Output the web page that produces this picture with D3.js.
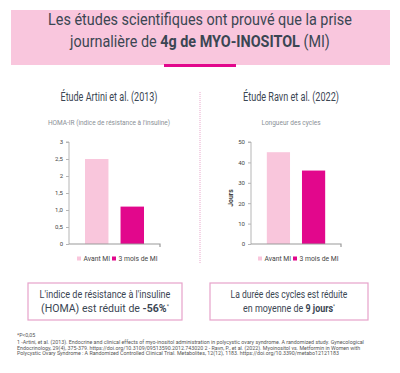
<!DOCTYPE html>
<html>
<head>
<meta charset="utf-8">
<script src="https://cdn.jsdelivr.net/npm/d3@7"></script>
<style>
  body { margin: 0; background: #fff; }
  text { font-family: Roboto, "Noto Sans", sans-serif; }
</style>
</head>
<body>
<div id="chart"></div>
<script>
// Data
var categories = ["Avant MI", "3 mois de MI"];
var homaValues = [2.5, 1.1];
var cycleValues = [45, 36];
var homaTicks = [0, 0.5, 1.0, 1.5, 2, 2.5, 3];
var homaTickLabels = ["0", "0,5", "1,0", "1,5", "2", "2,5", "3"];
var cycleTicks = [0, 10, 20, 30, 40, 50];

var pink = "#f9c6dc", magenta = "#e2078c", dark = "#3b4653";
var color = d3.scaleOrdinal().domain(categories).range([pink, magenta]);

var svg = d3.select("#chart").append("svg")
  .attr("width", 400)
  .attr("height", 373);

// squeeze text horizontally to a given width (the original uses a condensed face)
function fit(sel, w) {
  var n = sel.node().getComputedTextLength();
  var x = +sel.attr("x");
  var s = Math.min(1, w / n);
  sel.attr("transform", "translate(" + x + ",0) scale(" + s + ",1) translate(" + (-x) + ",0)");
  return sel;
}

// Header band
svg.append("rect").attr("x", 11).attr("y", 10).attr("width", 379).attr("height", 55).attr("fill", "#f9c6dd");
svg.append("rect").attr("x", 164).attr("y", 64).attr("width", 72).attr("height", 3).attr("fill", magenta);

fit(svg.append("text").attr("x", 200).attr("y", 25).attr("text-anchor", "middle")
  .attr("font-size", 16).attr("fill", dark)
  .text("Les études scientifiques ont prouvé que la prise"), 304);
var t2 = svg.append("text").attr("x", 200).attr("y", 47).attr("text-anchor", "middle")
  .attr("font-size", 16).attr("fill", dark);
t2.append("tspan").text("journalière de ");
t2.append("tspan").attr("font-weight", 700).text("4g de MYO-INOSITOL");
t2.append("tspan").text(" (MI)");
fit(t2, 260);

// Divider
svg.append("line").attr("x1", 200).attr("x2", 200).attr("y1", 92).attr("y2", 263)
  .attr("stroke", "#e9a6cc").attr("stroke-width", 1).attr("stroke-dasharray", "1,1");

function barChart(opt) {
  var x = d3.scaleBand()
    .domain(categories)
    .range([opt.x0, opt.x1])
    .paddingInner(0.34)
    .paddingOuter(0.45);
  var y = d3.scaleLinear()
    .domain([0, opt.max])
    .range([244, 142]);

  fit(svg.append("text").attr("x", opt.cx).attr("y", 101).attr("text-anchor", "middle")
    .attr("font-size", 12).attr("fill", dark).text(opt.study), opt.studyW);
  svg.append("text").attr("x", opt.cx).attr("y", 125).attr("text-anchor", "middle")
    .attr("font-size", 6.5).attr("fill", "#8a8f96").text(opt.title);

  // Y axis
  var yAxis = d3.axisLeft(y).tickValues(opt.ticks).tickSize(3).tickPadding(3)
    .tickFormat(function(d, i) { return opt.labels ? opt.labels[i] : d; });
  var ga = svg.append("g").attr("transform", "translate(" + opt.x0 + ",0)").call(yAxis);
  ga.select(".domain").attr("stroke", "#b5b5b5").attr("d", "M-3,142H0V244");
  ga.selectAll(".tick line").attr("stroke", "#b5b5b5");
  ga.selectAll("text").attr("font-size", 6).attr("fill", "#444").attr("font-family", "Roboto");

  // Bars
  svg.selectAll(null)
    .data(opt.values)
    .enter()
    .append("rect")
      .attr("x", function(d, i) { return x(categories[i]); })
      .attr("y", function(d) { return y(d); })
      .attr("width", x.bandwidth())
      .attr("height", function(d) { return y(0) - y(d); })
      .attr("fill", function(d, i) { return color(categories[i]); });

  // X axis line
  svg.append("path")
    .attr("d", "M" + opt.x0 + "," + y(0) + "H" + opt.x1 + "v3")
    .attr("fill", "none").attr("stroke", "#9a9a9a").attr("stroke-width", 1.2);

  // Legend
  var lg = svg.append("g").attr("transform", "translate(" + opt.lx + ",259)");
  var offs = [0, 35];
  categories.forEach(function(c, i) {
    lg.append("rect").attr("x", offs[i]).attr("y", -2.5).attr("width", 4).attr("height", 4).attr("fill", color(c));
    lg.append("text").attr("x", offs[i] + 6.5).attr("y", 2).attr("font-size", 6.8).attr("fill", "#444").text(c);
  });

  if (opt.yLabel) {
    svg.append("text")
      .attr("transform", "translate(" + (opt.x0 - 18) + ",198) rotate(-90)")
      .attr("text-anchor", "middle").attr("font-size", 6.8).attr("font-weight", 700)
      .attr("fill", "#444").text(opt.yLabel);
  }
}

barChart({x0: 69, x1: 160, cx: 109, max: 3, values: homaValues, ticks: homaTicks,
  labels: homaTickLabels, study: "Étude Artini et al. (2013)", studyW: 97,
  title: "HOMA-IR (indice de résistance à l'insuline)", lx: 77});
barChart({x0: 251, x1: 341, cx: 291, max: 50, values: cycleValues, ticks: cycleTicks,
  study: "Étude Ravn et al. (2022)", studyW: 96, title: "Longueur des cycles",
  lx: 258, yLabel: "Jours"});

// Result boxes
function box(x, w, l1, l2parts, w1, w2) {
  svg.append("rect").attr("x", x).attr("y", 283).attr("width", w).attr("height", 37)
    .attr("fill", "none").attr("stroke", "#e7a2ca").attr("stroke-width", 1.2);
  var cx = x + w / 2;
  fit(svg.append("text").attr("x", cx).attr("y", 298.5).attr("text-anchor", "middle")
    .attr("font-size", 11).attr("fill", dark).text(l1), w1);
  var t = svg.append("text").attr("x", cx).attr("y", 312).attr("text-anchor", "middle")
    .attr("font-size", 11).attr("fill", dark);
  l2parts.forEach(function(p) {
    var s = t.append("tspan").text(p[0]);
    if (p[1] === "b") s.attr("font-weight", 700);
    if (p[1] === "sup") s.attr("font-size", 5.5).attr("baseline-shift", "4");
  });
  fit(t, w2);
}
box(28, 154, "L'indice de résistance à l'insuline",
  [["(HOMA) est réduit de "], ["-56%", "b"], ["*", "sup"]], 131, 128);
box(210, 158, "La durée des cycles est réduite",
  [["en moyenne de "], ["9 jours", "b"], ["*", "sup"]], 117, 92);

// Footnotes
var notes = [
  "*P<0,05",
  "1 -Artini, et al. (2013). Endocrine and clinical effects of myo-inositol administration in polycystic ovary syndrome. A randomized study. Gynecological",
  "Endocrinology, 29(4), 375-379. https://doi.org/10.3109/09513590.2012.743020 2 - Ravn, P., et al. (2022). Myoinositol vs. Metformin in Women with",
  "Polycystic Ovary Syndrome : A Randomized Controlled Clinical Trial. Metabolites, 12(12), 1183. https://doi.org/10.3390/metabo12121183"
];
var noteY = [337, 344, 349.5, 355];
var noteW = [0, 374, 350, 334];
notes.forEach(function(n, i) {
  var t = svg.append("text").attr("x", 17).attr("y", noteY[i])
    .attr("font-size", 5.3).attr("fill", "#555").text(n);
  if (noteW[i]) fit(t, noteW[i]);
});
</script>
</body>
</html>
